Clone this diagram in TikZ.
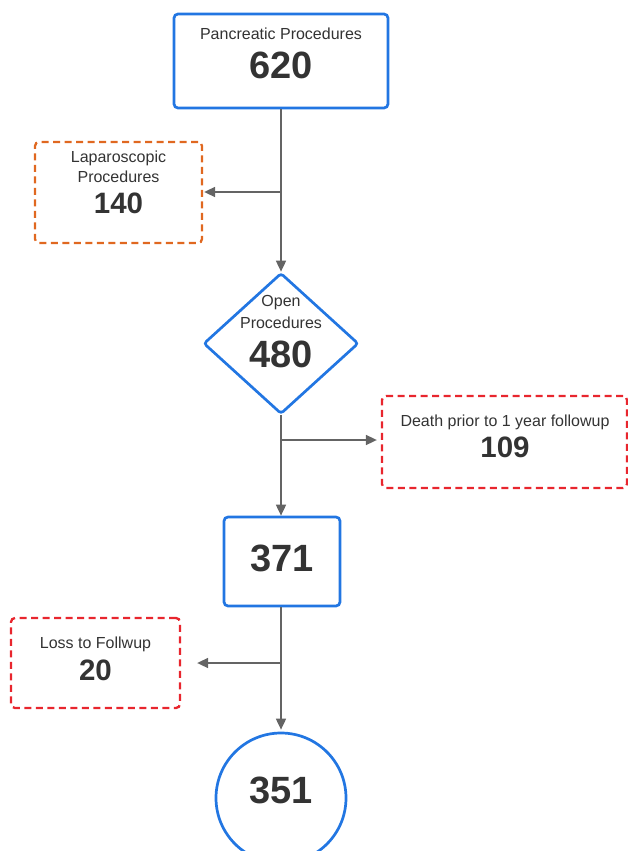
\documentclass[tikz,border=0pt]{standalone}
\usepackage{fontspec}
\setmainfont{Liberation Sans}
\usetikzlibrary{arrows.meta,shapes.geometric}
\definecolor{bblue}{RGB}{34,118,226}
\definecolor{dorange}{RGB}{224,104,32}
\definecolor{dred}{RGB}{232,38,46}
\definecolor{lgray}{RGB}{100,100,100}
\definecolor{tgray}{RGB}{51,51,51}
\tikzset{
  mainbox/.style={draw=bblue,line width=2.7pt,rounded corners=4pt,fill=white,inner sep=0pt},
  dbox/.style={dashed,dash pattern=on 7pt off 4.5pt,line width=2.3pt,rounded corners=4pt,inner sep=0pt},
  conn/.style={draw=lgray,line width=1.7pt,-{Triangle[length=11pt,width=10pt]}},
  small/.style={text=tgray,inner sep=0pt,font=\fontsize{16}{19}\selectfont},
  bignum/.style={text=tgray,inner sep=0pt,font=\fontsize{38}{40}\bfseries\selectfont},
  midnum/.style={text=tgray,inner sep=0pt,font=\fontsize{29.5}{32}\bfseries\selectfont}
}
\begin{document}
\begin{tikzpicture}[x=1pt,y=-1pt]
\useasboundingbox (0,0) rectangle (628,851);
\clip (0,0) rectangle (628,851);
% boxes
\node[mainbox,minimum width=214pt,minimum height=94pt] (top) at (281,61) {};
\node[small] (toptxt) at (281,34) {Pancreatic Procedures};
\node[bignum] (topnum) at (281,65) {620};

\node[dbox,draw=dorange,minimum width=167pt,minimum height=101pt] (lap) at (118.5,192.5) {};
\node[small] (laptxt1) at (118.5,158) {Laparoscopic};
\node[small] (laptxt2) at (118.5,177) {Procedures};
\node[midnum] (lapnum) at (118.5,203) {140};

\node[diamond,draw=bblue,line width=2.7pt,rounded corners=3pt,minimum width=155pt,minimum height=141pt,inner sep=0pt,aspect=1.1] (open) at (281,343.5) {};
\node[small] (opentxt1) at (281,303) {Open};
\node[small] (opentxt2) at (281,323) {Procedures};
\node[bignum] (opennum) at (281,354) {480};

\node[dbox,draw=dred,minimum width=245pt,minimum height=92pt] (death) at (504.5,442) {};
\node[small] (deathtxt) at (505,422) {Death prior to 1 year followup};
\node[midnum] (deathnum) at (505,447) {109};

\node[mainbox,minimum width=116pt,minimum height=89pt] (mid) at (282,561.5) {};
\node[bignum] (midnum) at (282,558) {371};

\node[dbox,draw=dred,minimum width=169pt,minimum height=90pt] (loss) at (95.5,663) {};
\node[small] (losstxt) at (95.5,644) {Loss to Follwup};
\node[midnum] (lossnum) at (95.5,670) {20};

\node[circle,draw=bblue,line width=2.7pt,minimum size=130pt,inner sep=0pt] (fin) at (281,798) {};
\node[bignum] (finnum) at (281,790) {351};

% connectors
\draw[conn] (top.south) -- (open.north);
\coordinate (b1) at (281,192);
\draw[conn,shorten >=1pt] (b1) -- (lap.east |- b1);

\draw[conn] (open.south) -- (mid.north -| open.south);
\coordinate (b2) at (281,440);
\draw[conn,shorten >=4pt] (b2) -- (death.west |- b2);

\draw[conn,shorten >=2pt] (mid.south -| open.south) -- (fin.north);
\coordinate (b3) at (281,663);
\draw[conn,shorten >=16pt] (b3) -- (loss.east |- b3);
\end{tikzpicture}
\end{document}
